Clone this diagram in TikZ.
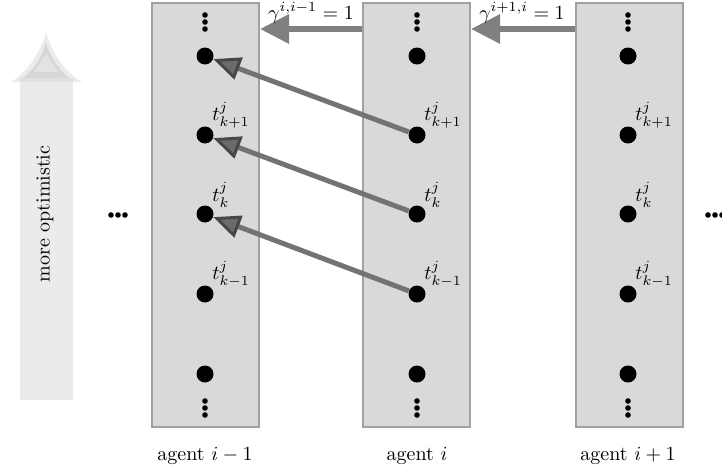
\documentclass[tikz,border=0pt]{standalone}
\usetikzlibrary{arrows.meta}
\begin{document}
\begin{tikzpicture}[x=0.5pt,y=-0.5pt,
  col/.style={draw=black!37,line width=1pt,fill=black!15,minimum width=53.5pt,minimum height=212pt,inner sep=0pt},
  dot/.style={circle,fill=black,inner sep=0pt,minimum size=8.5pt},
  sdot/.style={circle,fill=black,inner sep=0pt,minimum size=2.8pt},
  lab/.style={anchor=south west,inner sep=0pt},
  harrow/.style={draw=black!50,line width=3pt,-{Triangle[length=14.5pt,width=14pt]}},
  darrow/.style={draw=black!55,line width=2.5pt,-{Triangle[length=13.5pt,width=11.5pt,fill=black!58,color=black!72,line width=1.5pt]}},
  glab/.style={anchor=base,inner sep=0pt},
  alab/.style={anchor=base,inner sep=0pt}
]
\useasboundingbox (0,0) rectangle (722,471);
% big "more optimistic" arrow
\fill[black!8] (20,80) rectangle (73,400);
\fill[black!8] (46,31) .. controls (42,50) and (28,72) .. (11,82) -- (82,82) .. controls (64,72) and (50,50) .. (46,31) -- cycle;
\fill[black!16] (46,42) .. controls (42,58) and (32,72) .. (21,80) -- (72,80) .. controls (60,72) and (50,58) .. (46,42) -- cycle;
\fill[black!11] (46,54) -- (34,72) -- (59,72) -- cycle;
\fill[black!12] (20,78) rectangle (73,82);
\node[rotate=90,inner sep=0pt] (opt) at (45,214) {more optimistic};
% columns
\node[col] (c1) at (205.5,215) {};
\node[col] (c2) at (416.5,215) {};
\node[col] (c3) at (629,215) {};
% dots in columns
\foreach \c/\x in {1/205,2/417,3/628}{
  \node[sdot] (u\c a) at (\x,15) {};
  \node[sdot] (u\c b) at (\x,22) {};
  \node[sdot] (u\c c) at (\x,29) {};
  \node[dot] (d\c a) at (\x,56) {};
  \node[dot] (d\c b) at (\x,135) {};
  \node[dot] (d\c c) at (\x,214) {};
  \node[dot] (d\c d) at (\x,294) {};
  \node[dot] (d\c e) at (\x,374) {};
  \node[sdot] (w\c a) at (\x,401) {};
  \node[sdot] (w\c b) at (\x,408) {};
  \node[sdot] (w\c c) at (\x,415) {};
  \node[lab] (t\c b) at ([xshift=3.5pt,yshift=3pt]d\c b.center) {$t^j_{k+1}$};
  \node[lab] (t\c c) at ([xshift=3.5pt,yshift=3pt]d\c c.center) {$t^j_{k}$};
  \node[lab] (t\c d) at ([xshift=3.5pt,yshift=3pt]d\c d.center) {$t^j_{k-1}$};
}
% horizontal ellipses
\foreach \n/\x in {l1/111,l2/118,l3/125,r1/708,r2/715,r3/722}{
  \node[sdot] (h\n) at (\x,215) {};
}
% top arrows
\draw[harrow] ([yshift=-13.5pt]c2.north west) -- ([yshift=-13.5pt]c1.north east);
\draw[harrow] ([yshift=-13.5pt]c3.north west) -- ([yshift=-13.5pt]c2.north east);
\node[glab] (g1) at (311,19) {$\gamma^{i,i-1}=1$};
\node[glab] (g2) at (522,19) {$\gamma^{i+1,i}=1$};
% diagonal arrows
\draw[darrow] (d2b) -- (d1a);
\draw[darrow] (d2c) -- (d1b);
\draw[darrow] (d2d) -- (d1c);
% agent labels
\node[alab] (a1) at (205,460) {agent $i-1$};
\node[alab] (a2) at (417,460) {agent $i$};
\node[alab] (a3) at (628,460) {agent $i+1$};
\end{tikzpicture}
\end{document}
